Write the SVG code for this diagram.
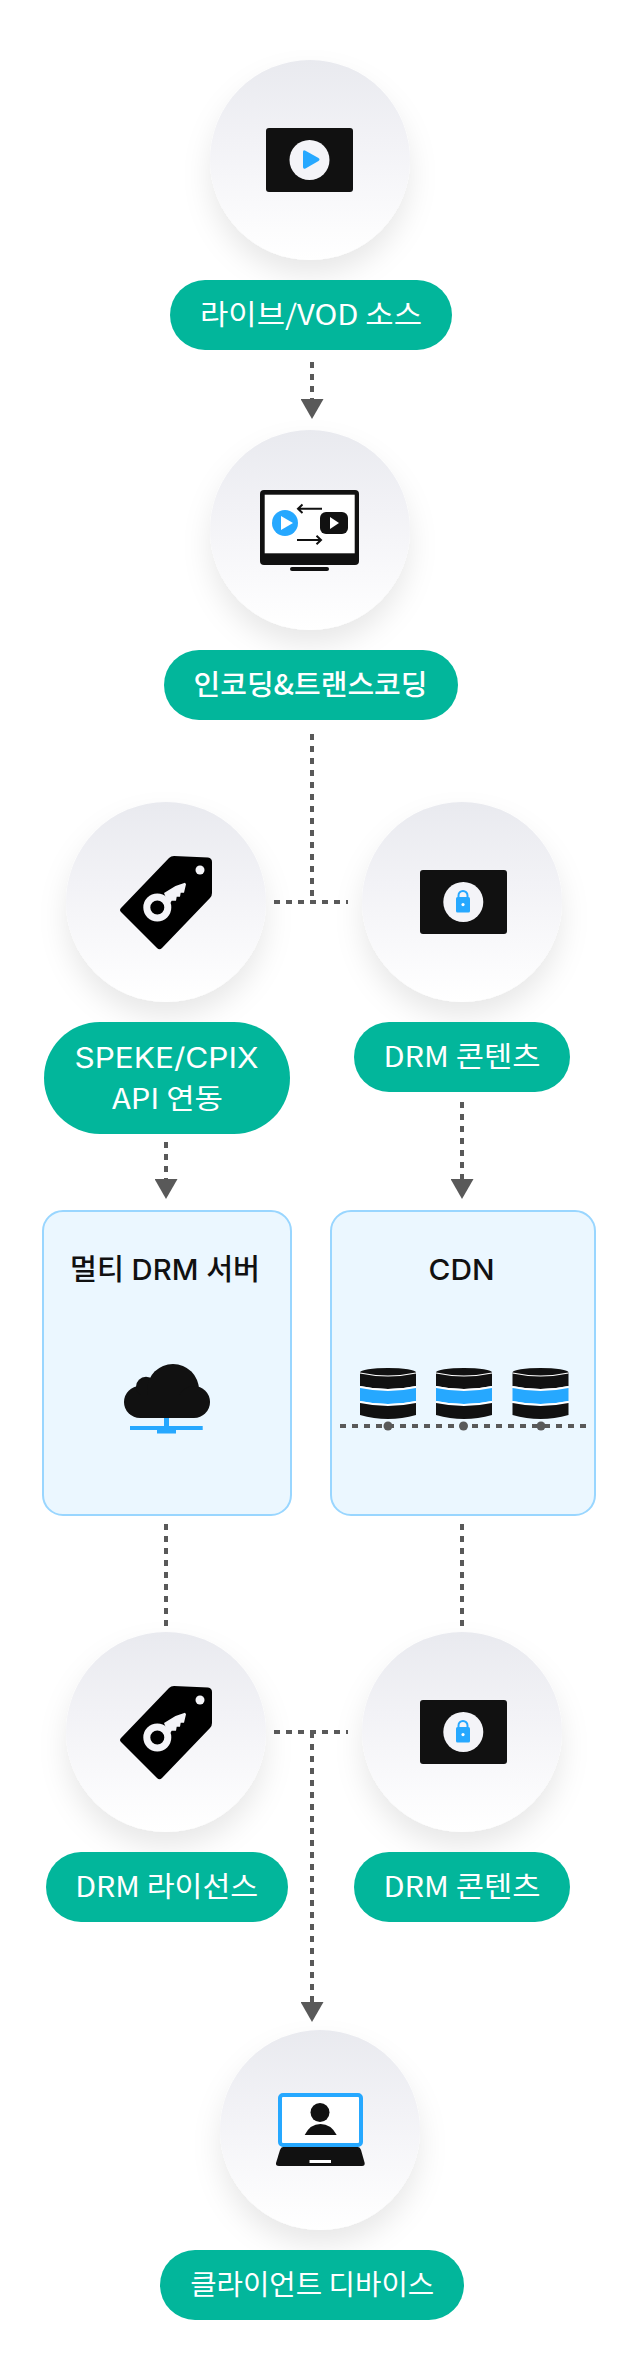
<svg xmlns="http://www.w3.org/2000/svg" width="640" height="2380" viewBox="0 0 640 2380">
<style>
text{font-family:"Noto Sans CJK KR","Noto Sans",sans-serif;text-anchor:middle}
.l{font-family:"Inter","Noto Sans CJK KR",sans-serif}
.pill{fill:#02b69b}
.pt{fill:#fff;font-size:28px;font-weight:400}
.pb{fill:#fff;font-size:28px;font-weight:500}
.bx{fill:#ebf7ff;stroke:#99d6ff;stroke-width:2}
.bt{fill:#111;font-size:29px;font-weight:500}
.cn{fill:none;stroke:#595959;stroke-width:4;stroke-dasharray:6 6}
.k{fill:#111}
.b{fill:#26a8ff}
.w{fill:#fff}
.c{fill:url(#g);filter:url(#s)}
</style>
<defs>
<linearGradient id="g" x1="0" y1="0" x2="0" y2="1"><stop offset="0" stop-color="#e9eaef"/><stop offset=".4" stop-color="#f2f2f6"/><stop offset=".85" stop-color="#fcfcfd"/><stop offset="1" stop-color="#fff"/></linearGradient>
<filter id="s" x="-40%" y="-40%" width="180%" height="180%"><feDropShadow dx="0" dy="15" stdDeviation="14" flood-color="#000" flood-opacity=".09"/></filter>
<marker id="ah" markerUnits="userSpaceOnUse" markerWidth="20" markerHeight="23" refX="0" refY="11.5" orient="auto"><path d="M0 0L20 11.5L0 23Z" fill="#595959"/></marker>
<g id="tag">
<path d="M169 858Q171 856 174 856L208 857.5Q212 858 212 862L212 893Q212 896 210 898L162 948Q159.500 950.500 157 948L121 912Q119 910 121 908Z" fill="#000"/>
<circle cx="200" cy="870" r="4.500" fill="#f4f4f8"/>
<circle cx="157.300" cy="907.500" r="10.500" fill="none" stroke="#f4f4f8" stroke-width="7"/>
<path d="M164 893L175.500 886L185 882.700L186 884.300L184 892.700L180.700 892.700L180 896.700L176.700 896.700L176 900.700L171.700 900.700L169 905Z" fill="#f4f4f8"/>
</g>
<g id="lock">
<rect x="420" y="870" width="87" height="64" rx="3" class="k"/>
<circle cx="463.300" cy="902" r="20" fill="#f4f4f8"/>
<rect x="456" y="897" width="14" height="15.500" rx="1.500" class="b"/>
<path d="M458.500 897V895.500a4.500 4.500 0 0 1 9 0V897" fill="none" stroke="#26a8ff" stroke-width="2"/>
<circle cx="463" cy="904.600" r="1.600" fill="#fff"/>
</g>
<g id="db">
<ellipse cx="28" cy="4.500" rx="28" ry="4.500" class="k"/>
<path d="M0 5Q28 11 56 5V18Q28 24 0 18Z" class="k"/>
<path d="M0 5Q28 11 56 5" fill="none" stroke="#fff" stroke-width="1.200"/>
<path d="M0 18Q28 24 56 18V20Q28 26 0 20Z" class="w"/>
<path d="M0 20Q28 26 56 20V33Q28 39 0 33Z" class="b"/>
<path d="M0 33Q28 39 56 33V35Q28 41 0 35Z" class="w"/>
<path d="M0 35Q28 41 56 35V47Q28 55 0 47Z" class="k"/>
</g>
</defs>
<rect width="640" height="2380" fill="#fff"/>
<g id="connectors">
<path class="cn" d="M312 362V399" marker-end="url(#ah)"/>
<path class="cn" d="M312 734V902"/>
<path class="cn" d="M274 902H348"/>
<path class="cn" d="M166 1142V1179" marker-end="url(#ah)"/>
<path class="cn" d="M462 1102V1179" marker-end="url(#ah)"/>
<path class="cn" d="M166 1524V1626"/>
<path class="cn" d="M462 1524V1626"/>
<path class="cn" d="M274 1732H348"/>
<path class="cn" d="M312 1732V2002" marker-end="url(#ah)"/>
</g>
<g id="source">
<circle class="c" cx="310" cy="160" r="100"/>
<rect x="266" y="128" width="87" height="64" rx="3" class="k"/>
<circle cx="309.500" cy="160" r="20" fill="#f4f4f8"/>
<path d="M303 152Q303 149.500 305.500 150.800L318.500 158Q320.500 159.500 318.500 161L305.500 168.500Q303 169.500 303 167Z" class="b"/>
<rect class="pill" x="170" y="280" width="282" height="70" rx="35"/>
<text class="pt" x="311" y="325" textLength="222" lengthAdjust="spacingAndGlyphs">라이브/VOD 소스</text>
</g>
<g id="encoding">
<circle class="c" cx="310" cy="530" r="100"/>
<rect x="260" y="490" width="99" height="75" rx="4" class="k"/>
<rect x="264.700" y="494.700" width="90" height="58.600" fill="#fff"/>
<rect x="290" y="567" width="39" height="4" rx="2" class="k"/>
<circle cx="285" cy="523" r="13" class="b"/>
<path d="M281 516L293 523L281 530Z" fill="#fff"/>
<rect x="320" y="512" width="28" height="22" rx="6" class="k"/>
<path d="M330 517L339 523L330 529Z" fill="#fff"/>
<path d="M322 508.700H298M302.500 504.500L298 508.700L302.500 513M297 540H321M316.500 535.800L321 540L316.500 544.300" fill="none" stroke="#111" stroke-width="2"/>
<rect class="pill" x="164" y="650" width="294" height="70" rx="35"/>
<text class="pb" x="310.500" y="695" textLength="234" lengthAdjust="spacingAndGlyphs">인코딩&amp;트랜스코딩</text>
</g>
<g id="speke">
<circle class="c" cx="166" cy="902" r="100"/>
<use href="#tag"/>
<rect class="pill" x="44" y="1022" width="246" height="112" rx="56"/>
<text class="pt l" x="166.500" y="1068" textLength="184" lengthAdjust="spacingAndGlyphs">SPEKE/CPIX</text>
<text class="pt" x="167.500" y="1109" textLength="111" lengthAdjust="spacingAndGlyphs">API 연동</text>
</g>
<g id="drm-content-1">
<circle class="c" cx="462" cy="902" r="100"/>
<use href="#lock"/>
<rect class="pill" x="354" y="1022" width="216" height="70" rx="35"/>
<text class="pt" x="462" y="1067" textLength="157" lengthAdjust="spacingAndGlyphs">DRM 콘텐츠</text>
</g>
<g id="drm-server">
<rect class="bx" x="43" y="1211" width="248" height="304" rx="20"/>
<text class="bt l" x="165" y="1280" textLength="190" lengthAdjust="spacingAndGlyphs">멀티 DRM 서버</text>
<g class="k"><circle cx="140" cy="1402" r="16"/><circle cx="146" cy="1386.700" r="10"/><circle cx="173" cy="1390" r="26"/><circle cx="194" cy="1402" r="16"/><rect x="140" y="1395" width="54" height="23"/></g>
<path class="b" d="M164 1418h5v8h33.700v4H176v3.500H157V1430H130v-4h34Z"/>
</g>
<g id="cdn">
<rect class="bx" x="331" y="1211" width="264" height="304" rx="20"/>
<text class="bt l" x="461.500" y="1280" textLength="66" lengthAdjust="spacingAndGlyphs">CDN</text>
<use href="#db" x="360" y="1368"/>
<use href="#db" x="436" y="1368"/>
<use href="#db" x="512.500" y="1368"/>
<path class="cn" d="M340 1426H588"/>
<circle cx="388" cy="1426" r="4.500" fill="#595959"/>
<circle cx="463.500" cy="1426" r="4.500" fill="#595959"/>
<circle cx="541" cy="1426" r="4.500" fill="#595959"/>
</g>
<g id="drm-license">
<circle class="c" cx="166" cy="1732" r="100"/>
<use href="#tag" y="830"/>
<rect class="pill" x="46" y="1852" width="242" height="70" rx="35"/>
<text class="pt" x="166.700" y="1897" textLength="183" lengthAdjust="spacingAndGlyphs">DRM 라이선스</text>
</g>
<g id="drm-content-2">
<circle class="c" cx="462" cy="1732" r="100"/>
<use href="#lock" y="830"/>
<rect class="pill" x="354" y="1852" width="216" height="70" rx="35"/>
<text class="pt" x="462" y="1897" textLength="157" lengthAdjust="spacingAndGlyphs">DRM 콘텐츠</text>
</g>
<g id="client">
<circle class="c" cx="320" cy="2130" r="100"/>
<rect x="280" y="2095" width="81" height="50" rx="3" fill="#fff" stroke="#26a8ff" stroke-width="4"/>
<circle cx="320" cy="2112.500" r="9.500" class="k"/>
<path class="k" d="M304.700 2135Q310 2124 320.500 2124Q331 2124 336.700 2135Z"/>
<path class="k" d="M283 2147H358Q360 2147 361 2150L364.700 2163Q365 2166 362 2166H279Q275.500 2166 276 2163L280 2150Q281 2147 283 2147Z"/>
<rect x="309.500" y="2160" width="21.500" height="3" fill="#fff"/>
<rect class="pill" x="160" y="2250" width="304" height="70" rx="35"/>
<text class="pt" x="312.200" y="2295" textLength="244" lengthAdjust="spacingAndGlyphs">클라이언트 디바이스</text>
</g>
</svg>
